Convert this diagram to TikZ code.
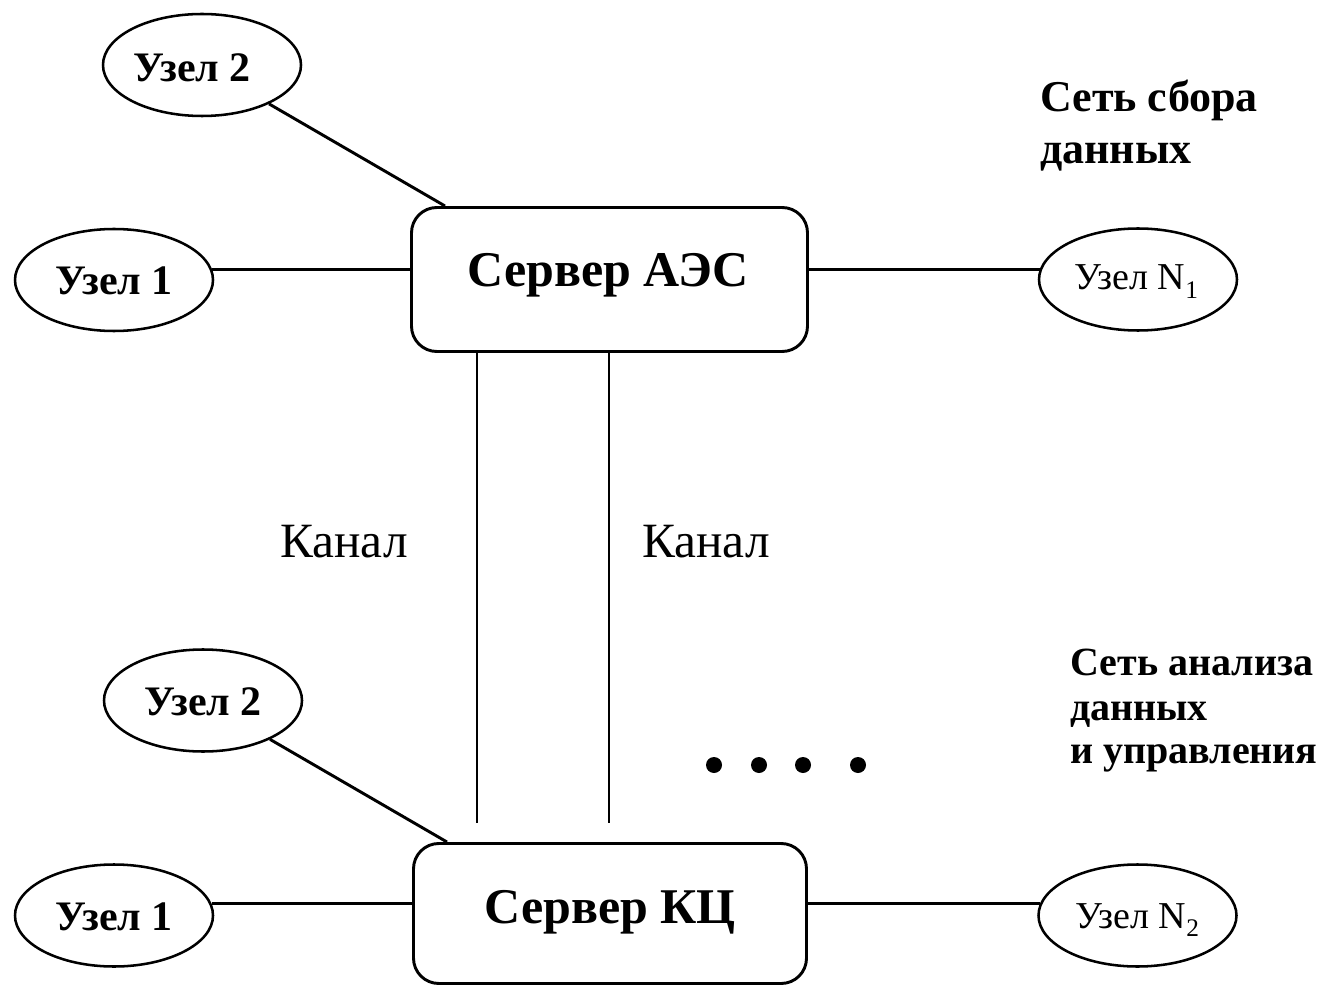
\documentclass[tikz,border=0pt]{standalone}
\usepackage{fontspec}
\setmainfont{Liberation Serif}
\usetikzlibrary{shapes.geometric}
\newcommand{\lowidx}[1]{\raisebox{-0.22em}{\fontsize{19}{19}\selectfont #1}}
\begin{document}
\begin{tikzpicture}[x=0.75pt,y=-0.75pt,
  uzel/.style={draw,ellipse,line width=1.9pt,minimum width=148.5pt,minimum height=76.5pt,inner sep=0pt},
  server/.style={draw,rounded corners=19pt,line width=2.2pt,inner sep=0pt},
  link/.style={line width=2.2pt},
  lbl/.style={anchor=base,inner sep=0pt},
  srvfont/.style={font=\fontsize{37.5}{40}\selectfont\bfseries},
  uzfont/.style={font=\fontsize{31.5}{34}\selectfont\bfseries},
  nfont/.style={font=\fontsize{28.5}{30}\selectfont},
  chfont/.style={font=\fontsize{37}{40}\selectfont},
  netA/.style={anchor=base west,inner sep=0pt,font=\fontsize{33}{35}\selectfont\bfseries},
  netB/.style={anchor=base west,inner sep=0pt,font=\fontsize{30}{32}\selectfont\bfseries},
  dotn/.style={circle,fill,inner sep=0pt,minimum size=12pt}
]
\useasboundingbox (0,0) rectangle (1331,987);

% servers
\node[server,minimum width=297pt,minimum height=108pt] (aes) at (609.5,279.5) {};
\node[server,minimum width=294.75pt,minimum height=105pt] (kc) at (610,913.5) {};
\node[lbl,srvfont] (taes) at (608,287) {Сервер АЭС};
\node[lbl,srvfont] (tkc) at (610,923) {Сервер КЦ};

% upper network nodes
\node[uzel] (u2a) at (202,65) {};
\node[uzel] (u1a) at (114,280) {};
\node[uzel] (nA) at (1138,279.5) {};
\node[lbl,uzfont] (tu2a) at (192,82) {Узел 2};
\node[lbl,uzfont] (tu1a) at (114,295) {Узел 1};
\node[lbl,nfont] (tnA) at (1136,290) {Узел N\lowidx{1}};

% lower network nodes
\node[uzel] (u2b) at (203,700.5) {};
\node[uzel] (u1b) at (114,915.5) {};
\node[uzel] (nB) at (1137.5,915.5) {};
\node[lbl,uzfont] (tu2b) at (203,715) {Узел 2};
\node[lbl,uzfont] (tu1b) at (114,930) {Узел 1};
\node[lbl,nfont] (tnB) at (1137,928) {Узел N\lowidx{2}};

% connections of the upper server
\coordinate (aesTL) at (445,206);
\draw[link] (u2a) -- (aesTL);
\draw[link] (u1a.6) -- (u1a.6 -| aes.west);
\draw[link] (aes.east |- nA.174) -- (nA.174);

% connections of the lower server
\coordinate (kcTL) at (447,842);
\draw[link] (u2b) -- (kcTL);
\draw[link] (u1b.7) -- (u1b.7 -| kc.west);
\draw[link] (kc.east |- nB.173) -- (nB.173);

% channels between the servers
\coordinate (ch1) at (477,823);
\coordinate (ch2) at (609,823);
\draw[link] (ch1 |- aes.south) -- (ch1);
\draw[link] (ch2 |- aes.south) -- (ch2);
\node[lbl,chfont] (k1) at (344,557) {Канал};
\node[lbl,chfont] (k2) at (706,557) {Канал};

% ellipsis
\node[dotn] (d1) at (714,765) {};
\node[dotn] (d2) at (759,765) {};
\node[dotn] (d3) at (803,765) {};
\node[dotn] (d4) at (858,765) {};

% network captions
\node[netA] (na1) at (1040,112) {Сеть сбора};
\node[netA] (na2) at (1040,164) {данных};
\node[netB] (nb1) at (1070,675) {Сеть анализа};
\node[netB] (nb2) at (1070,720) {данных};
\node[netB] (nb3) at (1070,763) {и управления};
\end{tikzpicture}
\end{document}
